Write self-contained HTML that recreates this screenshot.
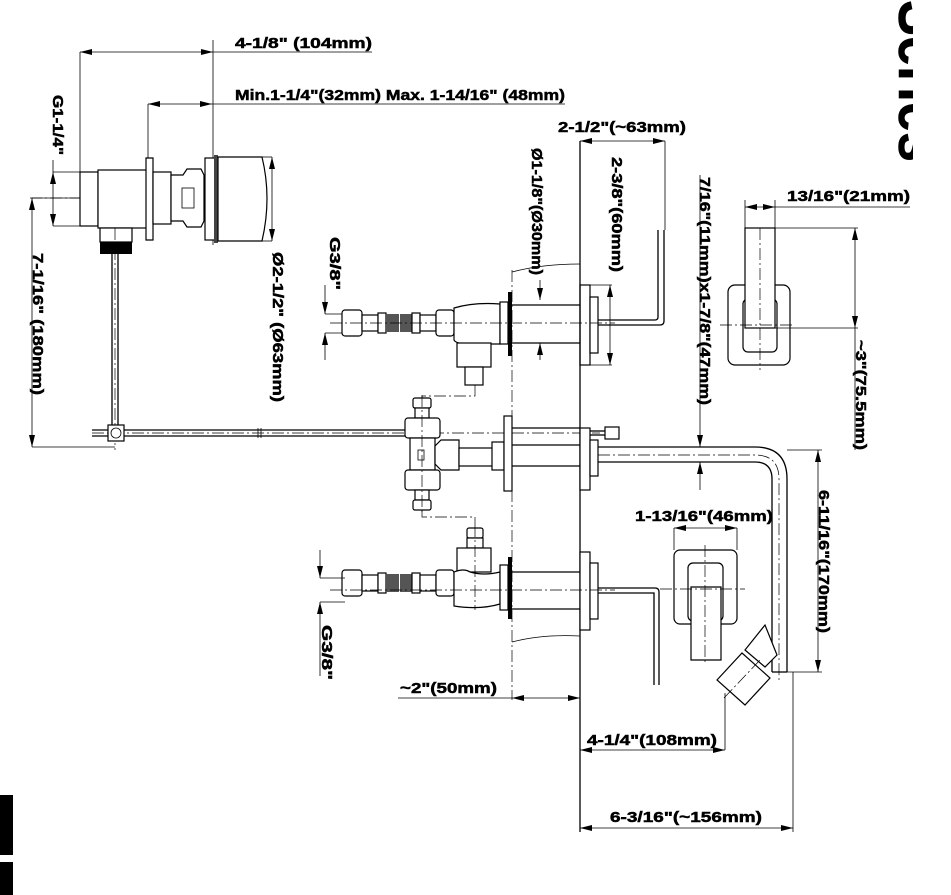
<!DOCTYPE html>
<html><head><meta charset="utf-8"><style>
html,body{margin:0;padding:0;background:#fff;width:951px;height:895px;overflow:hidden}
svg{display:block}
text{font-family:"Liberation Sans",Arial,sans-serif;font-weight:bold;font-size:15px;fill:#000;stroke:#000;stroke-width:0.5}
.l{stroke:#000;stroke-width:1.3;fill:none}
.t{stroke:#000;stroke-width:0.8;fill:none}
.c{stroke:#000;stroke-width:0.7;fill:none;stroke-dasharray:12 3 2 3}
.w{stroke:#000;stroke-width:1.2;fill:#fff}
</style></head><body>
<svg width="951" height="895" viewBox="0 0 951 895" xmlns="http://www.w3.org/2000/svg">
<defs>
<marker id="a" markerWidth="12" markerHeight="6" refX="12" refY="3" orient="auto-start-reverse" markerUnits="userSpaceOnUse"><path d="M0,0 L12,3 L0,6z" fill="#000"/></marker>
<clipPath id="sc"><rect x="880" y="0" width="33" height="200"/></clipPath>
</defs>

<!-- Series (cut) -->
<g clip-path="url(#sc)">
<text x="0" y="0" transform="translate(899,0) rotate(90)" textLength="162" lengthAdjust="spacingAndGlyphs" style="font-size:64px">Series</text>
</g>
<rect x="0" y="795" width="13" height="60" fill="#000"/>
<rect x="0" y="862" width="13" height="33" fill="#000"/>

<!-- top dims -->
<line class="t" x1="80" y1="52" x2="213" y2="52" marker-start="url(#a)" marker-end="url(#a)"/>
<line class="t" x1="213" y1="52" x2="372" y2="52"/>
<text x="235" y="48" textLength="137" lengthAdjust="spacingAndGlyphs">4-1/8" (104mm)</text>
<line class="t" x1="80" y1="52" x2="80" y2="172"/>
<line class="t" x1="213" y1="40" x2="213" y2="245"/>
<line class="t" x1="148" y1="104" x2="212" y2="104" marker-start="url(#a)" marker-end="url(#a)"/>
<line class="t" x1="212" y1="104" x2="565" y2="104"/>
<text x="235" y="100" textLength="330" lengthAdjust="spacingAndGlyphs">Min.1-1/4"(32mm) Max. 1-14/16" (48mm)</text>
<line class="t" x1="148" y1="104" x2="148" y2="160"/>

<!-- G1-1/4 -->
<text transform="translate(53,95) rotate(90)" textLength="60" lengthAdjust="spacingAndGlyphs">G1-1/4"</text>
<line class="t" x1="53" y1="172" x2="53" y2="226" marker-start="url(#a)" marker-end="url(#a)"/>
<line class="t" x1="53" y1="172" x2="80" y2="172"/>
<line class="t" x1="53" y1="226" x2="100" y2="226"/>
<line class="t" x1="53" y1="160" x2="53" y2="172"/>

<!-- valve body top-left -->
<line class="c" x1="30" y1="198" x2="245" y2="198"/>
<rect class="w" x="80" y="172" width="18" height="54"/>
<rect class="w" x="98" y="170" width="50" height="58"/>
<path class="w" d="M146,158 h7 v82 h-7 z"/>
<rect class="w" x="153" y="172" width="18" height="52"/>
<path class="w" d="M171,175 h12 l4,-6 h14 l3,6 v46 l-3,6 h-14 l-4,-6 h-12z"/>
<rect class="t" x="182" y="188" width="12" height="20"/>
<rect class="w" x="205" y="158" width="10" height="82"/>
<rect x="214" y="155" width="4" height="88" fill="#444"/>
<path class="w" d="M218,157 h44 q10,41 0,84 h-44z"/>
<line class="t" x1="262" y1="157" x2="272" y2="157"/>
<line class="t" x1="262" y1="241" x2="272" y2="241"/>
<text transform="translate(273,252) rotate(90)" textLength="150" lengthAdjust="spacingAndGlyphs">Ø2-1/2" (Ø63mm)</text>
<line class="t" x1="272" y1="157" x2="272" y2="241" marker-start="url(#a)" marker-end="url(#a)"/>
<rect class="w" x="100" y="228" width="32" height="14"/>
<rect x="100" y="242" width="32" height="12" fill="#000"/>
<line class="l" x1="112" y1="254" x2="112" y2="440"/>
<line class="l" x1="118" y1="254" x2="118" y2="440"/>
<line class="c" x1="115" y1="228" x2="115" y2="450"/>

<!-- 7-1/16 -->
<line class="t" x1="32" y1="198" x2="80" y2="198"/>
<line class="t" x1="32" y1="198" x2="32" y2="447" marker-start="url(#a)" marker-end="url(#a)"/>
<line class="t" x1="32" y1="447" x2="115" y2="447"/>
<text transform="translate(33,253) rotate(90)" textLength="142" lengthAdjust="spacingAndGlyphs">7-1/16" (180mm)</text>

<!-- rod -->
<line class="l" x1="92" y1="430" x2="405" y2="430"/>
<line class="l" x1="92" y1="436" x2="405" y2="436"/>
<line class="c" x1="92" y1="433" x2="600" y2="433"/>
<rect class="w" x="108" y="425" width="16" height="16"/>
<circle class="t" cx="116" cy="433" r="5"/>
<line class="t" x1="258" y1="428" x2="258" y2="438"/>
<line class="t" x1="261" y1="428" x2="261" y2="438"/>

<!-- G3/8 top -->
<text transform="translate(330,237) rotate(90)" textLength="53" lengthAdjust="spacingAndGlyphs">G3/8"</text>
<line class="t" x1="325" y1="285" x2="325" y2="314" marker-end="url(#a)"/>
<line class="t" x1="325" y1="333" x2="325" y2="360" marker-start="url(#a)"/>
<line class="t" x1="325" y1="314" x2="345" y2="314"/>
<line class="t" x1="325" y1="333" x2="345" y2="333"/>

<!-- upper valve -->
<g>
<rect class="w" x="342" y="310" width="20" height="26" rx="3"/>
<rect class="w" x="362" y="315" width="16" height="16"/>
<rect class="w" x="378" y="313" width="8" height="20"/>
<rect x="386" y="314" width="13" height="18" fill="#555"/>
<rect x="400" y="314" width="13" height="18" fill="#555"/>
<rect class="w" x="412" y="313" width="8" height="20"/>
<rect class="w" x="420" y="315" width="16" height="16"/>
<rect class="w" x="436" y="310" width="18" height="26" rx="3"/>
<path class="w" d="M454,308 q20,-6 46,-4 v40 h-30 q-14,0 -16,-4z"/>
<rect class="w" x="457" y="343" width="34" height="24"/>
<rect class="w" x="465" y="367" width="18" height="18"/>
<rect class="w" x="500" y="302" width="8" height="42"/>
<rect x="508" y="292" width="4" height="64" fill="#000"/>
<line class="l" x1="512" y1="305" x2="580" y2="305"/>
<line class="l" x1="512" y1="343" x2="580" y2="343"/>
<rect class="w" x="580" y="285" width="10" height="80"/>
<rect class="w" x="590" y="297" width="8" height="56"/>
<path class="l" d="M598,320 H655 q3,0 3,-3 V230"/>
<path class="l" d="M598,325 H660 q4,0 4,-4 V230"/>
<line class="c" x1="330" y1="323" x2="615" y2="323"/>
</g>
<text transform="translate(532,148) rotate(90)" textLength="127" lengthAdjust="spacingAndGlyphs">Ø1-1/8"(Ø30mm)</text>
<line class="t" x1="540" y1="280" x2="540" y2="300" marker-end="url(#a)"/>
<line class="t" x1="540" y1="343" x2="540" y2="360" marker-start="url(#a)"/>
<path class="t" d="M512,272 q30,-8 68,-8"/>
<!-- 2-3/8 -->
<text transform="translate(612,157) rotate(90)" textLength="115" lengthAdjust="spacingAndGlyphs">2-3/8"(60mm)</text>
<line class="t" x1="610" y1="285" x2="610" y2="365" marker-start="url(#a)" marker-end="url(#a)"/>
<line class="t" x1="590" y1="285" x2="612" y2="285"/>
<line class="t" x1="590" y1="365" x2="612" y2="365"/>
<!-- 2-1/2 -->
<text x="558" y="132" textLength="128" lengthAdjust="spacingAndGlyphs">2-1/2"(~63mm)</text>
<line class="t" x1="580" y1="141" x2="665" y2="141" marker-start="url(#a)" marker-end="url(#a)"/>
<line class="t" x1="665" y1="141" x2="665" y2="230"/>

<!-- walls -->
<line class="l" x1="580" y1="141" x2="580" y2="832"/>
<line class="c" x1="512" y1="270" x2="512" y2="700"/>
<path class="t" d="M512,642 q30,-8 68,-6"/>

<!-- middle tee -->
<g>
<path class="c" d="M475,385 V396 H422 V405"/>
<rect class="w" x="413" y="398" width="18" height="10" rx="2"/>
<rect class="w" x="415" y="408" width="14" height="10"/>
<rect class="w" x="405" y="418" width="35" height="20" rx="3"/>
<rect class="w" x="410" y="438" width="25" height="32"/>
<rect class="t" x="418" y="450" width="6" height="10"/>
<path class="w" d="M435,446 l6,-6 h18 v30 h-18 l-6,-6z"/>
<rect class="w" x="459" y="448" width="36" height="18"/>
<rect class="w" x="492" y="442" width="12" height="28"/>
<rect class="w" x="405" y="470" width="35" height="20" rx="3"/>
<rect class="w" x="415" y="490" width="14" height="10"/>
<rect class="w" x="413" y="500" width="18" height="10" rx="2"/>
<path class="c" d="M422,510 V517 H475 V525"/>
<line class="c" x1="422" y1="395" x2="422" y2="515"/>
<rect class="w" x="504" y="416" width="8" height="75"/>
<line class="l" x1="512" y1="428" x2="580" y2="428"/>
<line class="l" x1="512" y1="445" x2="580" y2="445"/>
<line class="l" x1="512" y1="466" x2="580" y2="466"/>
<rect class="w" x="580" y="428" width="10" height="62"/>
<rect class="w" x="590" y="440" width="8" height="36"/>
<line class="l" x1="590" y1="431" x2="605" y2="431"/>
<line class="l" x1="590" y1="435" x2="605" y2="435"/>
<rect class="w" x="605" y="427" width="14" height="12"/>
<path class="l" d="M598,447 H755 q32,0 32,32 V672"/>
<path class="l" d="M598,462 H755 q17,0 17,17 V672"/>
<line class="l" x1="772" y1="672" x2="787" y2="672"/>
<path class="c" d="M598,455 H755 q24,0 24,24 V680"/>
</g>

<!-- 7/16 x 1-7/8 -->
<text transform="translate(700,177) rotate(90)" textLength="228" lengthAdjust="spacingAndGlyphs">7/16"(11mm)x1-7/8"(47mm)</text>
<line class="t" x1="700" y1="175" x2="700" y2="447" marker-end="url(#a)"/>
<line class="t" x1="700" y1="462" x2="700" y2="490" marker-start="url(#a)"/>

<!-- right handle -->
<text x="787" y="201" textLength="123" lengthAdjust="spacingAndGlyphs">13/16"(21mm)</text>
<line class="t" x1="745" y1="207" x2="775" y2="207" marker-start="url(#a)" marker-end="url(#a)"/>
<line class="t" x1="775" y1="207" x2="910" y2="207"/>
<rect class="w" x="728" y="285" width="62" height="80" rx="7"/>
<rect class="w" x="743" y="299" width="34" height="53" rx="5"/>
<rect class="w" x="745" y="228" width="30" height="100"/>
<line class="t" x1="745" y1="200" x2="745" y2="228"/>
<line class="t" x1="775" y1="200" x2="775" y2="228"/>
<line class="c" x1="760" y1="228" x2="760" y2="370"/>
<line class="c" x1="720" y1="325" x2="795" y2="325"/>
<line class="t" x1="775" y1="228" x2="858" y2="228"/>
<line class="t" x1="775" y1="328" x2="858" y2="328"/>
<line class="t" x1="855" y1="228" x2="855" y2="328" marker-start="url(#a)" marker-end="url(#a)"/>
<line class="t" x1="855" y1="328" x2="855" y2="450"/>
<text transform="translate(856,340) rotate(90)" textLength="110" lengthAdjust="spacingAndGlyphs">~3"(75.5mm)</text>

<!-- 6-11/16 -->
<line class="t" x1="787" y1="450" x2="822" y2="450"/>
<line class="t" x1="787" y1="672" x2="822" y2="672"/>
<line class="t" x1="818" y1="450" x2="818" y2="672" marker-start="url(#a)" marker-end="url(#a)"/>
<text transform="translate(819,490) rotate(90)" textLength="143" lengthAdjust="spacingAndGlyphs">6-11/16"(170mm)</text>

<!-- lower handle -->
<text x="635" y="521" textLength="138" lengthAdjust="spacingAndGlyphs">1-13/16"(46mm)</text>
<line class="t" x1="674" y1="528" x2="737" y2="528" marker-start="url(#a)" marker-end="url(#a)"/>
<line class="t" x1="674" y1="528" x2="674" y2="550"/>
<line class="t" x1="737" y1="528" x2="737" y2="550"/>
<rect class="w" x="674" y="550" width="63" height="74" rx="6"/>
<rect class="w" x="688" y="563" width="35" height="58" rx="5"/>
<path class="w" d="M691,587 h30 v73 h-30z"/>
<line class="c" x1="705" y1="545" x2="705" y2="665"/>
<line class="c" x1="660" y1="589" x2="745" y2="589"/>
<!-- shower head -->
<path class="w" d="M745,650 l20,-25 l12,30 l-12,12z"/>
<path class="w" d="M717,680 l25,-27 l28,25 l-25,27z"/>
<line class="c" x1="724" y1="698" x2="760" y2="660"/>

<!-- lower valve -->
<g>
<rect class="w" x="467" y="528" width="16" height="10" rx="2"/>
<rect class="w" x="467" y="538" width="16" height="10"/>
<rect class="w" x="457" y="548" width="34" height="24"/>
<rect class="w" x="342" y="570" width="20" height="26" rx="3"/>
<rect class="w" x="362" y="575" width="16" height="16"/>
<rect class="w" x="378" y="573" width="8" height="20"/>
<rect x="386" y="574" width="13" height="18" fill="#555"/>
<rect x="400" y="574" width="13" height="18" fill="#555"/>
<rect class="w" x="412" y="573" width="8" height="20"/>
<rect class="w" x="420" y="575" width="16" height="16"/>
<rect class="w" x="436" y="570" width="18" height="26" rx="3"/>
<path class="w" d="M454,572 q10,-4 16,0 q14,4 30,0 v32 q-20,6 -46,2z"/>
<rect class="w" x="500" y="565" width="8" height="45"/>
<rect x="508" y="557" width="4" height="62" fill="#000"/>
<line class="l" x1="512" y1="572" x2="580" y2="572"/>
<line class="l" x1="512" y1="609" x2="580" y2="609"/>
<rect class="w" x="580" y="552" width="10" height="78"/>
<rect class="w" x="590" y="563" width="8" height="56"/>
<path class="l" d="M598,588 H655 q4,0 4,4 V685"/>
<path class="l" d="M598,593 H654 V685"/>
<line class="c" x1="330" y1="590" x2="615" y2="590"/>
<line class="c" x1="475" y1="525" x2="475" y2="610"/>
</g>
<line class="t" x1="320" y1="550" x2="320" y2="578" marker-end="url(#a)"/>
<line class="t" x1="320" y1="602" x2="320" y2="632" marker-start="url(#a)"/>
<line class="t" x1="320" y1="578" x2="345" y2="578"/>
<line class="t" x1="320" y1="602" x2="345" y2="602"/>
<line class="t" x1="320" y1="632" x2="320" y2="676"/>
<text transform="translate(322,625) rotate(90)" textLength="55" lengthAdjust="spacingAndGlyphs">G3/8"</text>

<!-- bottom dims -->
<text x="400" y="693" textLength="97" lengthAdjust="spacingAndGlyphs">~2"(50mm)</text>
<line class="t" x1="398" y1="698" x2="512" y2="698"/>
<line class="t" x1="512" y1="698" x2="580" y2="698" marker-start="url(#a)" marker-end="url(#a)"/>
<text x="587" y="745" textLength="130" lengthAdjust="spacingAndGlyphs">4-1/4"(108mm)</text>
<line class="t" x1="580" y1="750" x2="725" y2="750" marker-start="url(#a)" marker-end="url(#a)"/>
<line class="t" x1="725" y1="693" x2="725" y2="750"/>
<text x="610" y="822" textLength="152" lengthAdjust="spacingAndGlyphs">6-3/16"(~156mm)</text>
<line class="t" x1="580" y1="828" x2="793" y2="828" marker-start="url(#a)" marker-end="url(#a)"/>
<line class="t" x1="793" y1="672" x2="793" y2="832"/>
</svg>
</body></html>
